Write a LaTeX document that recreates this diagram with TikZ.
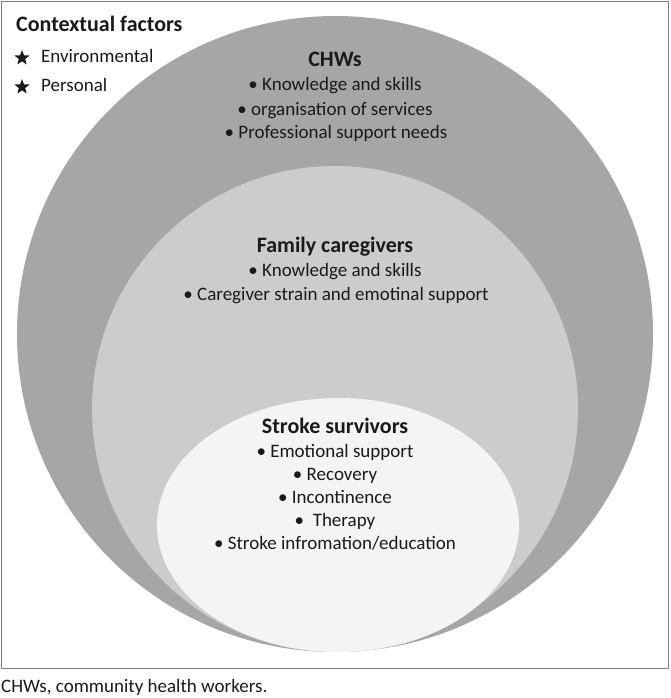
\documentclass[tikz,border=0pt]{standalone}
\usepackage{fontspec}
\setmainfont{Carlito}
\usetikzlibrary{shapes.geometric}
\definecolor{outerg}{HTML}{A6A6A6}
\definecolor{midg}{HTML}{CCCCCC}
\definecolor{inng}{HTML}{F3F4F6}
\definecolor{frameg}{HTML}{7F7F7F}
\definecolor{txt}{HTML}{1A1A1A}
\begin{document}
\begin{tikzpicture}[x=1pt,y=-1pt,
  layer/.style={inner sep=0pt,outer sep=0pt,draw=none},
  head/.style={anchor=base,inner sep=0pt,text=txt,font=\fontsize{22}{24}\selectfont\bfseries},
  item/.style={anchor=base,inner sep=0pt,text=txt,font=\fontsize{19}{23}\selectfont},
  itemw/.style={anchor=base west,inner sep=0pt,text=txt,font=\fontsize{19}{23}\selectfont},
  starmark/.style={star,star points=5,star point ratio=2.4,fill=txt,inner sep=0pt,minimum size=16pt}]
\useasboundingbox (0,0) rectangle (670,698);
\node[draw=frameg,line width=1.3pt,minimum width=667pt,minimum height=667pt,inner sep=0pt,anchor=north west] (frame) at (1,1) {};
\node[layer,circle,fill=outerg,minimum size=636pt] (outer) at (335,334) {};
\node[layer,circle,fill=midg,minimum size=486pt] (mid) at (335,409) {};
\node[layer,ellipse,fill=inng,minimum width=362pt,minimum height=254pt] (inner) at (338,525) {};
% contextual factors
\node[anchor=base west,inner sep=0pt,text=txt,font=\fontsize{22}{24}\selectfont\bfseries] (ctx) at (16,32) {Contextual factors};
\node[starmark] (s1) at (22,58) {};
\node[itemw] (env) at (41,63) {Environmental};
\node[starmark] (s2) at (22,87) {};
\node[itemw] (pers) at (41,92) {Personal};
% CHWs
\node[head] (chw) at (335,67) {CHWs};
\node[item] (c1) at (335,91) {• Knowledge and skills};
\node[item] (c2) at (335,115) {• organisation of services};
\node[item] (c3) at (336,139) {• Professional support needs};
% family caregivers
\node[head] (fam) at (335,252) {Family caregivers};
\node[item] (f1) at (335,276) {• Knowledge and skills};
\node[item] (f2) at (336,300) {• Caregiver strain and emotinal support};
% stroke survivors
\node[head] (ss) at (335,433) {Stroke survivors};
\node[item] (r1) at (335,457) {• Emotional support};
\node[item] (r2) at (335,480) {• Recovery};
\node[item] (r3) at (335,503) {• Incontinence};
\node[item] (r4) at (335,526) {•\ \ Therapy};
\node[item] (r5) at (335,549) {• Stroke infromation/education};
% caption
\node[itemw] (cap) at (1,692.5) {CHWs, community health workers.};
\end{tikzpicture}
\end{document}
